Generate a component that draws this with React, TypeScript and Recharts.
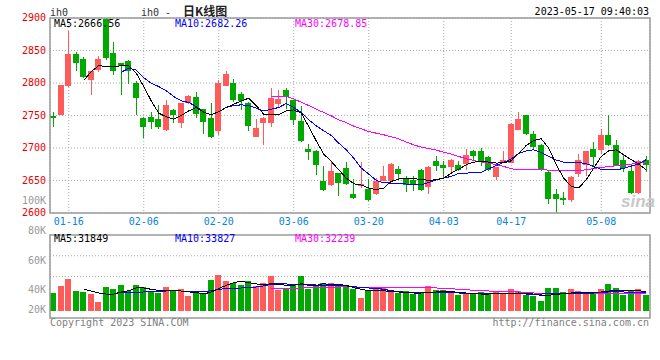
import React from "react";
import {
  ComposedChart,
  Bar,
  Line,
  XAxis,
  YAxis,
  CartesianGrid,
} from "recharts";

// trading days shown on the daily K chart
const dates = [
  "01-12", "01-13", "01-16", "01-17", "01-18", "01-19", "01-20", "01-30", "01-31", "02-01",
  "02-02", "02-03", "02-06", "02-07", "02-08", "02-09", "02-10", "02-13", "02-14", "02-15",
  "02-16", "02-17", "02-20", "02-21", "02-22", "02-23", "02-24", "02-27", "02-28", "03-01",
  "03-02", "03-03", "03-06", "03-07", "03-08", "03-09", "03-10", "03-13", "03-14", "03-15",
  "03-16", "03-17", "03-20", "03-21", "03-22", "03-23", "03-24", "03-27", "03-28", "03-29",
  "03-30", "03-31", "04-03", "04-04", "04-06", "04-07", "04-10", "04-11", "04-12", "04-13",
  "04-14", "04-17", "04-18", "04-19", "04-20", "04-21", "04-24", "04-25", "04-26", "04-27",
  "04-28", "05-04", "05-05", "05-08", "05-09", "05-10", "05-11", "05-12", "05-15", "05-16",
];

const open = [
  2750, 2751, 2795.5, 2844.7, 2837.5, 2805.3, 2820.6, 2899, 2846, 2830.4,
  2834.5, 2800.2, 2746.9, 2748.4, 2744.9, 2727.5, 2758.7, 2739.2, 2769, 2779.2,
  2760.2, 2746.4, 2725.4, 2796, 2799.6, 2783.3, 2769.4, 2717.2, 2737.7, 2738.7,
  2767.4, 2789.4, 2774, 2741.8, 2698.8, 2695.7, 2649.6, 2643.5, 2661.4, 2669.6,
  2629.7, 2640.9, 2637.3, 2629.1, 2649.6, 2649.6, 2668.1, 2653.7, 2651.2, 2666.5,
  2639.4, 2680.3, 2674.2, 2670.1, 2673.2, 2675.2, 2694.7, 2695.7, 2686, 2655.8,
  2676.8, 2676.8, 2728, 2751, 2721.8, 2704.9, 2663.4, 2629.7, 2622.5, 2619.4,
  2659.9, 2674.2, 2698.8, 2696.2, 2720.3, 2704.9, 2680.9, 2665, 2630.2, 2681.9,
];
const high = [
  2756, 2797.5, 2880, 2847, 2840, 2818.6, 2841, 2900, 2863, 2831.4,
  2836, 2803.7, 2747.5, 2755, 2766.4, 2774, 2759.7, 2769.9, 2781.7, 2786.3,
  2760.7, 2769.4, 2804.2, 2818.6, 2806.3, 2786.3, 2770.5, 2744.9, 2747.4, 2792.5,
  2789.4, 2792.5, 2774.5, 2764.8, 2706.5, 2696.2, 2672.7, 2679.3, 2661.9, 2677.8,
  2652.7, 2677.8, 2652.7, 2653.7, 2672.7, 2676.2, 2671.6, 2656.8, 2656.8, 2667,
  2671.6, 2688, 2680.3, 2682.4, 2679.3, 2698.3, 2697.2, 2699.8, 2688, 2670.6,
  2694.7, 2737.7, 2755.6, 2751.5, 2725.4, 2706.5, 2663.9, 2637.3, 2631.7, 2656.3,
  2691.1, 2695.2, 2708.5, 2729.5, 2751, 2711.6, 2688.5, 2671.6, 2681.9, 2688,
];
const low = [
  2733, 2750.5, 2794, 2818.6, 2808.3, 2781.7, 2817.6, 2835.5, 2812.5, 2781.7,
  2798.6, 2751.5, 2715.7, 2729.5, 2729.5, 2725.4, 2739.2, 2731.5, 2768, 2746.9,
  2721.3, 2715.2, 2719.3, 2795.5, 2770.5, 2758.7, 2725.4, 2716.7, 2703.9, 2732.6,
  2763.8, 2760.2, 2735.6, 2709, 2680.9, 2657.8, 2633.2, 2641.4, 2626.6, 2643.5,
  2622, 2638.4, 2617.9, 2628.1, 2649.1, 2648.6, 2652.7, 2631.7, 2634.3, 2634.3,
  2629.7, 2665, 2653.7, 2661.9, 2664, 2666.5, 2679.3, 2672.7, 2665, 2651.2,
  2676.3, 2676.3, 2727.5, 2719.3, 2697.2, 2664, 2613.8, 2600, 2612.8, 2616.4,
  2655.8, 2656.3, 2671.6, 2690.6, 2703.4, 2671.6, 2662.4, 2629.7, 2629.7, 2663,
];
const close = [
  2746.4, 2797, 2844.7, 2831.4, 2809.4, 2818.6, 2837.5, 2839, 2818.6, 2826.8,
  2818.6, 2777.6, 2732.6, 2740.2, 2732.6, 2766.4, 2751, 2769.4, 2780, 2752,
  2740.2, 2717.2, 2799.6, 2813.5, 2774.6, 2772.5, 2733.1, 2731, 2746.9, 2777.1,
  2775.6, 2778.1, 2743.8, 2711, 2693.1, 2674.2, 2635.8, 2665, 2646, 2645,
  2623.5, 2645, 2619.4, 2648.6, 2657.3, 2675.7, 2660.4, 2642.5, 2642.5, 2635.8,
  2670.6, 2671.6, 2669.6, 2681.9, 2666.5, 2689.6, 2688, 2680.3, 2665.5, 2670.1,
  2680.9, 2737.2, 2744.9, 2721.8, 2700.8, 2666.5, 2622, 2622, 2620, 2655.3,
  2681.4, 2694.7, 2685.5, 2720.3, 2703.9, 2674.2, 2669.1, 2630.2, 2680.3, 2673.2,
];

// moving averages as drawn on the chart
const ma5 = [
  null, null, null, null, 2803.7, 2817.6, 2826.8, 2825.2, 2824.7, 2826.8,
  2826.8, 2815, 2794.5, 2772.5, 2753.6, 2748, 2744.3, 2750, 2757.1, 2762.3,
  2755, 2751, 2756, 2762.3, 2767.4, 2772.5, 2776.6, 2765.3, 2752, 2751,
  2751, 2757, 2758.7, 2753.6, 2733, 2711, 2690.6, 2679.3, 2666.5, 2653.7,
  2645, 2643, 2638.4, 2635.8, 2638.4, 2648.6, 2652.2, 2653.7, 2652.7, 2651.7,
  2650.1, 2651.2, 2653.7, 2661.4, 2667.5, 2674.2, 2678.3, 2679.3, 2678.3, 2676.8,
  2677.3, 2680.3, 2692.1, 2703.9, 2711.6, 2714.1, 2699.8, 2674.2, 2653.7, 2640.9,
  2638.4, 2651.2, 2669.1, 2687, 2695.7, 2697.2, 2689.6, 2681.9, 2675.2, 2666.6,
];
const ma10 = [
  null, null, null, null, null, null, null, null, null, 2816.5,
  2822.7, 2820, 2808.3, 2799.6, 2794.5, 2787.9, 2779.2, 2772.5, 2770, 2763.8,
  2755, 2751, 2756, 2762.3, 2765.3, 2766.4, 2765.3, 2761.2, 2757.1, 2759.7,
  2762.3, 2768.4, 2762.3, 2754.6, 2743.3, 2734.1, 2726.4, 2719.3, 2707.5, 2697.2,
  2684.4, 2669.1, 2659.9, 2650.1, 2646.6, 2646, 2646, 2644.5, 2644, 2643.5,
  2647, 2651.2, 2653.7, 2656.3, 2661, 2661.4, 2661.9, 2662.4, 2668, 2673,
  2677.8, 2683.4, 2691.6, 2695.7, 2697.2, 2693.1, 2687, 2681.4, 2678.3, 2677.8,
  2677.8, 2675.7, 2671.6, 2667, 2666.5, 2666.5, 2668.6, 2672.2, 2675.5, 2682.3,
];
const ma30 = [
  null, null, null, null, null, null, null, null, null, null,
  null, null, null, null, null, null, null, null, null, null,
  null, null, null, null, null, null, null, null, null, 2779.2,
  2779.2, 2779.2, 2775.6, 2770.5, 2765.3, 2759.7, 2754.6, 2749.5, 2743.3, 2739.2,
  2733.6, 2729.5, 2725.4, 2722.8, 2720.3, 2717.2, 2714.1, 2709, 2704.9, 2701.3,
  2699.3, 2696.7, 2693.7, 2690.6, 2687, 2683.4, 2680.9, 2678.3, 2676.2, 2674.7,
  2671.6, 2668.1, 2666.5, 2666.5, 2666.5, 2666.5, 2666, 2665.5, 2665, 2665,
  2665.5, 2666.5, 2668.5, 2670.1, 2671.6, 2672.7, 2673.7, 2675.2, 2677, 2678.8,
];

// volume in thousands of lots
const volK = [
  29.7, 41.8, 52.8, 33, 31.4, 28.6, 14.9, 39.6, 36.3, 42.9,
  32.5, 42.9, 39.6, 32.5, 29.7, 39.6, 34.1, 36.3, 25.3, 32.5,
  28, 51.2, 59.4, 49.5, 45.7, 42.9, 49.5, 40.7, 46.2, 58.3,
  34.7, 37.4, 42.9, 58.3, 36.9, 42.9, 46.2, 46.2, 42.9, 42.4,
  36.3, 21.5, 35.2, 38, 38, 33, 29.7, 32.5, 28, 29.7,
  41.3, 34.7, 34.7, 31.4, 26.4, 30.2, 29.7, 31.4, 28, 33,
  30.2, 36.3, 33, 26.4, 24.8, 16.5, 38, 38, 31.4, 36.3,
  33, 29.7, 29.7, 36.3, 44.6, 38, 26.4, 33.5, 36.3, 26.4,
];
const volMa5 = [
  null, null, null, null, 35.8, 33, 29.7, 28, 28, 31.4,
  33.5, 38, 38, 35.8, 34.1, 33.5, 33.5, 33, 31.4, 30.8,
  28, 31.4, 36.9, 42.4, 46.8, 49, 46.8, 44.6, 43.5, 45.1,
  43.9, 42.4, 42.4, 45.1, 42.4, 42.4, 45.1, 43.5, 43.5, 42.4,
  38.5, 35.8, 33.5, 33, 33.5, 31.9, 31.4, 30.2, 29.7, 29.7,
  30.2, 31.4, 31.4, 31.9, 30.8, 29.7, 29.2, 28, 28, 28.6,
  28.6, 29.2, 29.7, 29.2, 28, 25.8, 25.8, 27.5, 28.6, 29.7,
  30.2, 30.8, 30.8, 31.4, 33, 34.1, 34.1, 34.1, 33.5, 31.8,
];
const volMa10 = [
  null, null, null, null, null, null, null, null, null, 30.8,
  30.8, 30.8, 31.4, 31.4, 32.5, 33, 33.5, 33, 32.5, 31.9,
  31.4, 33.5, 35.8, 36.9, 37.4, 38, 38.5, 39.6, 41.3, 44,
  45.1, 44.6, 43.5, 43.5, 44, 42.9, 42.4, 41.8, 41.3, 41.3,
  40.2, 38.5, 38, 37.4, 35.8, 33.5, 31.9, 30.8, 30.2, 30.2,
  30.2, 30.8, 30.8, 30.2, 29.7, 29.2, 29.2, 28.6, 28.6, 28.6,
  28.6, 29.2, 28.6, 28, 28, 28, 28.6, 28.6, 29.2, 29.2,
  29.2, 29.7, 29.7, 30.2, 31.4, 31.4, 31.4, 30.8, 30.8, 30.2,
];
const volMa30 = [
  null, null, null, null, null, null, null, null, null, null,
  null, null, null, null, null, null, null, null, null, null,
  null, null, null, null, null, null, null, null, null, 36.9,
  36.9, 36.9, 37.4, 38, 38, 38.5, 39.1, 39.6, 39.6, 40.2,
  39.6, 39.1, 39.1, 38.5, 38.5, 38.5, 38.5, 38.5, 38.5, 38.5,
  38.5, 38, 36.9, 36.9, 35.8, 35.2, 34.1, 33.5, 33, 32.5,
  32.5, 31.9, 31.4, 30.8, 29.7, 29.7, 29.7, 29.7, 29.7, 29.7,
  29.7, 29.7, 29.7, 29.2, 29.2, 29.2, 28.6, 28.6, 29.2, 29.7,
];

const priceTicks = [2600, 2650, 2700, 2750, 2800, 2850, 2900];
const dateTicks = ["01-16", "02-06", "02-20", "03-06", "03-20", "04-03", "04-17", "05-08"];
const volAxisLabels = ["100K", "80K", "60K", "40K", "20K"];

const RED = "#ff5b5b";
const GREEN = "#00a800";
const MONO = "'DejaVu Sans Mono', monospace";

const rows = dates.map((d, i) => ({
  date: d,
  open: open[i],
  high: high[i],
  low: low[i],
  close: close[i],
  ma5: ma5[i],
  ma10: ma10[i],
  ma30: ma30[i],
  vol: volK[i],
  vma5: volMa5[i],
  vma10: volMa10[i],
  vma30: volMa30[i],
}));

const Candle = (props: any) => {
  const { x, y, height, payload } = props;
  const { open: o, close: c, high: h, low: l } = payload;
  const ratio = h > l ? height / (h - l) : 0;
  const color = c >= o ? RED : GREEN;
  const left = Math.round(x);
  const bodyTop = y + (h - Math.max(o, c)) * ratio;
  const bodyH = Math.max(1, Math.abs(o - c) * ratio);
  return (
    <g shapeRendering="crispEdges">
      <rect x={left + 3} y={y} width={1} height={height} fill={color} />
      <rect x={left} y={bodyTop} width={6} height={bodyH} fill={color} />
    </g>
  );
};

const VolBar = (props: any) => {
  const { x, y, height, payload } = props;
  const color = payload.close >= payload.open ? RED : GREEN;
  return (
    <rect
      x={Math.round(x)}
      y={y}
      width={6}
      height={height}
      fill={color}
      shapeRendering="crispEdges"
    />
  );
};

const PriceTick = ({ x, y, payload }: any) => (
  <text x={x - 4} y={y + 3} textAnchor="end" fill="#e80000" fontSize={10} fontFamily={MONO}>
    {payload.value}
  </text>
);

const DateTick = ({ x, y, payload }: any) => (
  <text x={x} y={y + 11.5} textAnchor="middle" fill="#0a84d8" fontSize={10} fontFamily={MONO}>
    {payload.value}
  </text>
);

const volGridRows = ({ offset }: any) => [
  offset.top + offset.height / 4,
  offset.top + offset.height / 2,
];

// thin aliased lines, like the original bitmap chart
const maLine = (key: string, color: string) => (
  <Line
    type="linear"
    dataKey={key}
    stroke={color}
    strokeWidth={1}
    shapeRendering="crispEdges"
    dot={false}
    activeDot={false}
    isAnimationActive={false}
  />
);

const App = () => {
  return (
    <div
      style={{
        position: "absolute",
        left: 0,
        top: 0,
        width: 660,
        height: 360,
        background: "#fff",
        overflow: "hidden",
      }}
    >
      <div style={{ position: "absolute", left: 0, top: 0 }}>
        <ComposedChart
          width={660}
          height={230}
          data={rows}
          margin={{ top: 18, right: 10, bottom: 0, left: 0 }}
          barCategoryGap={0}
        >
          <CartesianGrid stroke="#aaa" strokeDasharray="1 2" />
          <XAxis
            dataKey="date"
            ticks={dateTicks}
            interval={0}
            height={17}
            tickSize={0}
            tickMargin={0}
            axisLine={false}
            tickLine={false}
            tick={<DateTick />}
          />
          <YAxis
            domain={[2600, 2900]}
            ticks={priceTicks}
            allowDataOverflow
            width={50}
            tickSize={0}
            tickMargin={0}
            axisLine={false}
            tickLine={false}
            tick={<PriceTick />}
          />
          <Bar
            dataKey={(d: any) => [d.low, d.high]}
            shape={<Candle />}
            isAnimationActive={false}
          />
          {maLine("ma30", "#ff00ff")}
          {maLine("ma10", "#0000ff")}
          {maLine("ma5", "#000")}
        </ComposedChart>
      </div>

      <div style={{ position: "absolute", left: 0, top: 235 }}>
        <ComposedChart
          width={660}
          height={83}
          data={rows}
          margin={{ top: 0, right: 10, bottom: 0, left: 50 }}
          barCategoryGap={0}
        >
          <CartesianGrid
            stroke="#aaa"
            strokeDasharray="1 2"
            horizontalCoordinatesGenerator={volGridRows}
          />
          <XAxis
            dataKey="date"
            ticks={dateTicks}
            interval={0}
            height={0}
            tick={false}
            axisLine={false}
            tickLine={false}
          />
          <YAxis hide domain={[-11.55, 125.4]} allowDataOverflow />
          <Bar dataKey="vol" shape={<VolBar />} isAnimationActive={false} />
          {maLine("vma30", "#ff00ff")}
          {maLine("vma10", "#0000ff")}
          {maLine("vma5", "#000")}
        </ComposedChart>
      </div>

      <svg
        width={660}
        height={360}
        style={{ position: "absolute", left: 0, top: 0, pointerEvents: "none" }}
        fontFamily={MONO}
        fontSize={10}
      >
        <rect x={50} y={18} width={600} height={195} fill="none" stroke="#9a9a9a" strokeWidth={1.5} />
        <rect x={50} y={235} width={600} height={83} fill="none" stroke="#9a9a9a" strokeWidth={1.5} />

        <text x={50} y={16} fill="#333">ih0</text>
        <text x={141} y={16} fill="#333">ih0 -</text>
        <text x={183} y={15.5} fill="#222" fontSize={12} fontWeight={700} fontFamily="'Noto Sans CJK SC', sans-serif">
          日K线图
        </text>
        <text x={649} y={15} textAnchor="end" fill="#000">2023-05-17 09:40:03</text>

        <text x={54} y={27} fill="#000">MA5:2666.56</text>
        <text x={175} y={27} fill="#0000ff">MA10:2682.26</text>
        <text x={295} y={27} fill="#ff00ff">MA30:2678.85</text>

        <text x={54} y={242} fill="#000">MA5:31849</text>
        <text x={175} y={242} fill="#0000ff">MA10:33827</text>
        <text x={295} y={242} fill="#ff00ff">MA30:32239</text>

        <text x={46} y={204} textAnchor="end" fill="#999">{volAxisLabels[0]}</text>
        <text x={46} y={234} textAnchor="end" fill="#999">{volAxisLabels[1]}</text>
        <text x={46} y={264} textAnchor="end" fill="#999">{volAxisLabels[2]}</text>
        <text x={46} y={293.3} textAnchor="end" fill="#999">{volAxisLabels[3]}</text>
        <text x={46} y={313.3} textAnchor="end" fill="#999">{volAxisLabels[4]}</text>

        <text x={50} y={326} fill="#808080">Copyright 2023 SINA.COM</text>
        <text x={649} y={326} textAnchor="end" fill="#808080">http://finance.sina.com.cn</text>

        <text
          x={621}
          y={207}
          fill="#c8c8c8"
          fontSize={17}
          fontStyle="italic"
          fontWeight={700}
          fontFamily="'Liberation Sans', sans-serif"
        >
          sina
        </text>
      </svg>
    </div>
  );
};

export default App;
